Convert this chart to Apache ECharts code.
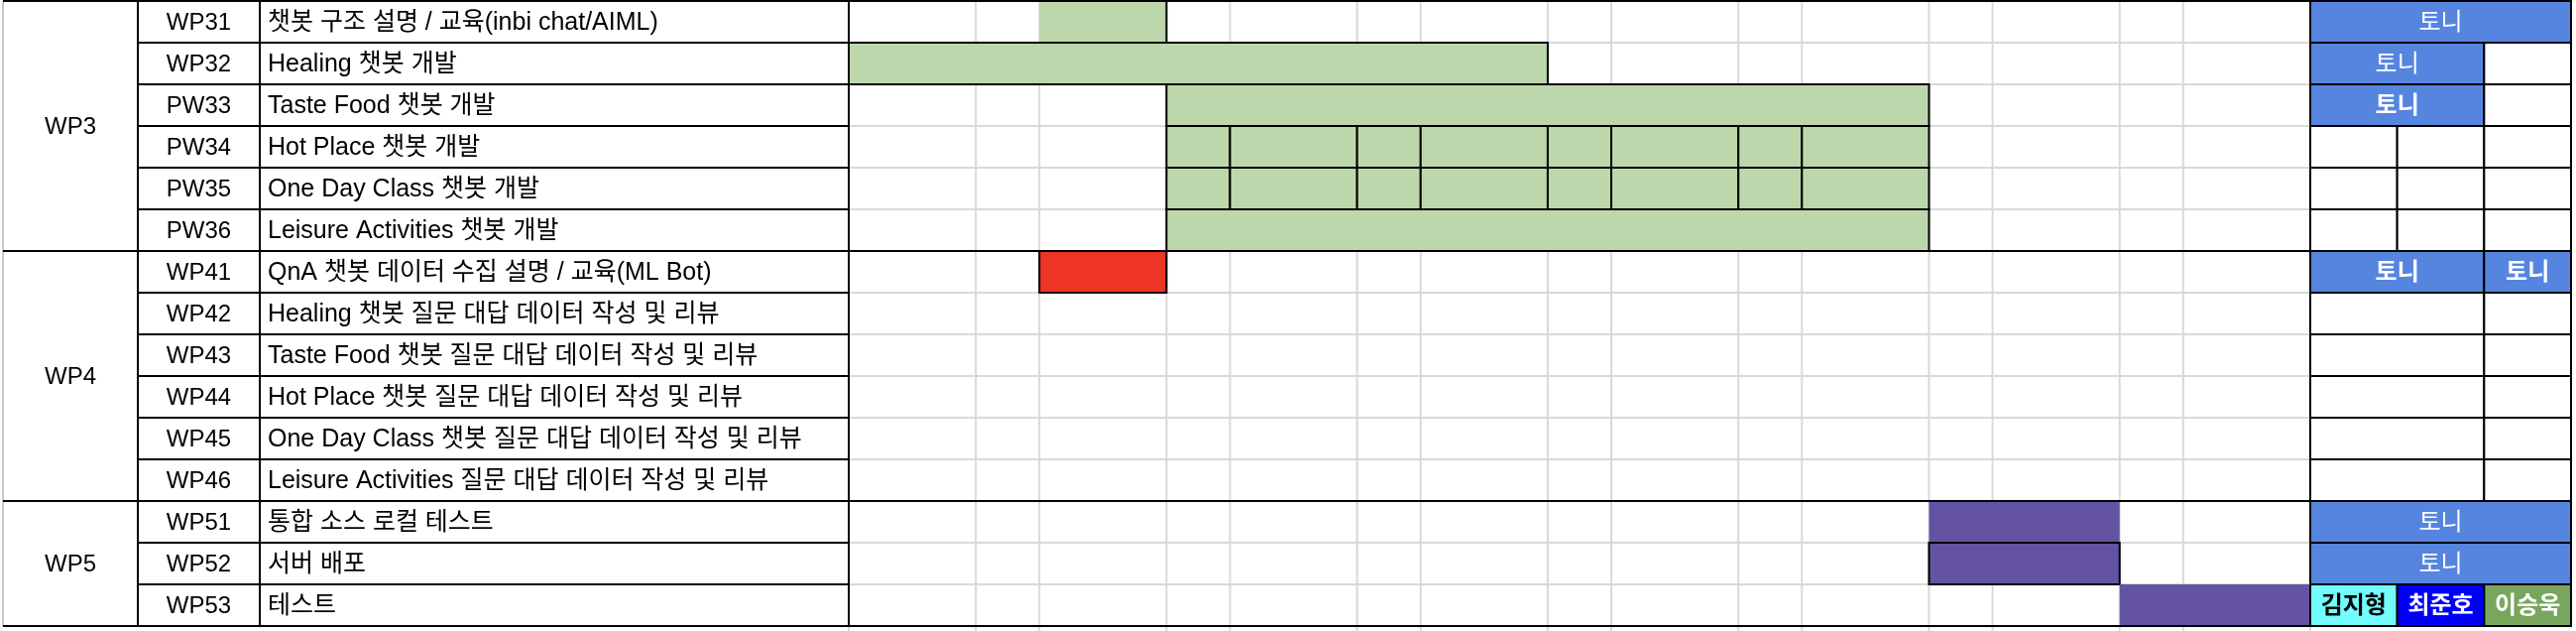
<!DOCTYPE html>
<html><head><meta charset="utf-8">
<script src="https://cdn.jsdelivr.net/npm/echarts@6/dist/echarts.min.js"></script>
<style>html,body{margin:0;padding:0;background:#fff}#c{width:2598px;height:636px}</style>
</head><body><div id="c"></div>
<script>
// ---------------- data ----------------
const groupNames = ['WP3', 'WP4', 'WP5'];
const groupFirstRow = [0, 6, 12];
const groupLastRow = [5, 11, 14];
const taskIds = ['WP31','WP32','PW33','PW34','PW35','PW36','WP41','WP42','WP43','WP44','WP45','WP46','WP51','WP52','WP53'];
const taskNames = [
  '챗봇 구조 설명 / 교육(inbi chat/AIML)',
  'Healing 챗봇 개발',
  'Taste Food 챗봇 개발',
  'Hot Place 챗봇 개발',
  'One Day Class 챗봇 개발',
  'Leisure Activities 챗봇 개발',
  'QnA 챗봇 데이터 수집 설명 / 교육(ML Bot)',
  'Healing 챗봇 질문 대답 데이터 작성 및 리뷰',
  'Taste Food 챗봇 질문 대답 데이터 작성 및 리뷰',
  'Hot Place 챗봇 질문 대답 데이터 작성 및 리뷰',
  'One Day Class 챗봇 질문 대답 데이터 작성 및 리뷰',
  'Leisure Activities 질문 대답 데이터 작성 및 리뷰',
  '통합 소스 로컬 테스트',
  '서버 배포',
  '테스트'
];
// timeline slot boundaries (wide / narrow schedule columns)
const timeSlots = [0, 2, 3, 5, 6, 8, 9, 11, 12, 14, 15, 17, 18, 20, 21, 23];
// gantt bars
const barRows   = [0, 1, 2, 3, 4, 5, 6, 12, 13, 14];
const barStarts = [3, 0, 5, 5, 5, 5, 3, 17, 17, 20];
const barEnds   = [5, 11, 17, 17, 17, 17, 5, 20, 20, 23];
const barKinds  = ['devOpenLeft','dev','dev','devSplit','devSplit','dev','edu','testOpen','test','testOpen'];
// owner cells: [row, fromCol, toCol, name, kind]
const owners = [
  [0, 0, 3, '토니', 'tony'],
  [1, 0, 2, '토니', 'tony'], [1, 2, 3, '', 'none'],
  [2, 0, 2, '토니', 'tonyB'], [2, 2, 3, '', 'none'],
  [3, 0, 1, '', 'none'], [3, 1, 2, '', 'none'], [3, 2, 3, '', 'none'],
  [4, 0, 1, '', 'none'], [4, 1, 2, '', 'none'], [4, 2, 3, '', 'none'],
  [5, 0, 1, '', 'none'], [5, 1, 2, '', 'none'], [5, 2, 3, '', 'none'],
  [6, 0, 2, '토니', 'tonyB'], [6, 2, 3, '토니', 'tonyB'],
  [7, 0, 2, '', 'none'], [7, 2, 3, '', 'none'],
  [8, 0, 2, '', 'none'], [8, 2, 3, '', 'none'],
  [9, 0, 2, '', 'none'], [9, 2, 3, '', 'none'],
  [10, 0, 2, '', 'none'], [10, 2, 3, '', 'none'],
  [11, 0, 2, '', 'none'], [11, 2, 3, '', 'none'],
  [12, 0, 3, '토니', 'tony'],
  [13, 0, 3, '토니', 'tony'],
  [14, 0, 1, '김지형', 'kim'], [14, 1, 2, '최준호', 'choi'], [14, 2, 3, '이승욱', 'lee']
];

// ---------------- styles ----------------
const FONT = '"Liberation Sans", "Noto Sans CJK KR", sans-serif';
const FS = 24, FS_TASK = 25;
const BLACK = '#000000', GRID = '#d9d9d9';
const barStyle = {
  dev:         { fill: '#bdd7ad', outline: true },
  devOpenLeft: { fill: '#bdd7ad', outline: true, openLeft: true },
  devSplit:    { fill: '#bdd7ad', outline: true, split: true },
  edu:         { fill: '#ee3425', outline: true },
  test:        { fill: '#6453a3', outline: true },
  testOpen:    { fill: '#6453a3', outline: false }
};
const ownerStyle = {
  none:  { fill: '#ffffff', color: '#000', weight: 'normal' },
  tony:  { fill: '#5685df', color: '#ffffff', weight: 'normal' },
  tonyB: { fill: '#5685df', color: '#ffffff', weight: 'bold' },
  kim:   { fill: '#74fbfd', color: '#000000', weight: 'bold' },
  choi:  { fill: '#0000f8', color: '#ffffff', weight: 'bold' },
  lee:   { fill: '#79a65d', color: '#ffffff', weight: 'bold' }
};

const nRows = taskIds.length;
const nSlots = timeSlots[timeSlots.length - 1];

function rectOf(api, x0, x1, r0, r1) {
  const a = api.coord([x0, r0]), b = api.coord([x1, r1]);
  return { x: a[0], y: a[1], width: b[0] - a[0], height: b[1] - a[1] };
}
function line(api, p, q, color, w) {
  const a = api.coord(p), b = api.coord(q);
  return { type: 'line', shape: { x1: a[0], y1: a[1], x2: b[0], y2: b[1] }, style: { stroke: color, lineWidth: w } };
}
function txt(x, y, s, align, color, weight, size) {
  return { type: 'text', style: { text: s, x: x, y: y, align: align, verticalAlign: 'middle',
    fontSize: size || FS, fontFamily: FONT, fontWeight: weight || 'normal', fill: color || '#000' } };
}

const chart = echarts.init(document.getElementById('c'), null, { renderer: 'canvas' });
const gridDefs = [
  { left: 3, width: 136, max: 1 },
  { left: 139, width: 123, max: 1 },
  { left: 262, width: 594, max: 1 },
  { left: 856, width: 1474, max: nSlots },
  { left: 2330, width: 263, max: 3 }
];
const option = {
  animation: false,
  backgroundColor: '#ffffff',
  grid: gridDefs.map(g => ({ left: g.left, width: g.width, top: 1, height: 630 })),
  xAxis: gridDefs.map((g, i) => ({ type: 'value', gridIndex: i, min: 0, max: g.max, show: false })),
  yAxis: gridDefs.map((g, i) => ({ type: 'value', gridIndex: i, min: 0, max: nRows, inverse: true, show: false })),
  series: [
    // gantt gray grid lines (continue past the table bottom like the sheet)
    {
      type: 'custom', xAxisIndex: 3, yAxisIndex: 3, z: 1, silent: true, clip: false,
      data: [[0, 0]],
      renderItem: function (params, api) {
        const ch = [];
        timeSlots.forEach(b => ch.push(line(api, [b, 0], [b, nRows + 1], GRID, 2)));
        for (let r = 0; r <= nRows; r++) ch.push(line(api, [0, r], [nSlots, r], GRID, 2));
        return { type: 'group', children: ch };
      }
    },
    // gantt bars
    {
      type: 'custom', xAxisIndex: 3, yAxisIndex: 3, z: 2, silent: true, clip: false,
      data: barRows.map((r, i) => [r, barStarts[i], barEnds[i]]),
      renderItem: function (params, api) {
        const row = api.value(0), s = api.value(1), e = api.value(2);
        const st = barStyle[barKinds[params.dataIndex]];
        const ch = [];
        const stroke = st.outline && !st.openLeft ? { stroke: BLACK, lineWidth: 2 } : {};
        if (st.split) {
          const cuts = timeSlots.filter(b => b >= s && b <= e);
          for (let k = 0; k < cuts.length - 1; k++) {
            ch.push({ type: 'rect', shape: rectOf(api, cuts[k], cuts[k + 1], row, row + 1),
              style: Object.assign({ fill: st.fill }, stroke) });
          }
        } else {
          ch.push({ type: 'rect', shape: rectOf(api, s, e, row, row + 1),
            style: Object.assign({ fill: st.fill }, stroke) });
        }
        if (st.openLeft) {
          ch.push(line(api, [e, row], [e, row + 1], BLACK, 2));
          ch.push(line(api, [s, row + 1], [e, row + 1], BLACK, 2));
        }
        return { type: 'group', children: ch };
      }
    },
    // section lines across gantt
    {
      type: 'custom', xAxisIndex: 3, yAxisIndex: 3, z: 5, silent: true, clip: false,
      data: [groupFirstRow[0]].concat(groupLastRow.map(r => r + 1)).map(r => [r]),
      renderItem: function (params, api) {
        const r = api.value(0);
        return line(api, [0, r], [nSlots, r], BLACK, 2);
      }
    },
    // group column
    {
      type: 'custom', xAxisIndex: 0, yAxisIndex: 0, z: 3, silent: true, clip: false,
      data: groupNames.map((g, i) => [groupFirstRow[i], groupLastRow[i] + 1]),
      renderItem: function (params, api) {
        const r0 = api.value(0), r1 = api.value(1);
        const R = rectOf(api, 0, 1, r0, r1);
        return { type: 'group', children: [
          { type: 'rect', shape: R, style: { fill: '#fff' } },
          line(api, [0, r0], [0, r1], '#c8c8c8', 2),
          line(api, [0, r0], [1, r0], BLACK, 2),
          line(api, [0, r1], [1, r1], BLACK, 2),
          line(api, [1, r0], [1, r1], BLACK, 2),
          txt(R.x + R.width / 2, R.y + R.height / 2 + 1, groupNames[params.dataIndex], 'center')
        ] };
      }
    },
    // id column
    {
      type: 'custom', xAxisIndex: 1, yAxisIndex: 1, z: 3, silent: true, clip: false,
      data: taskIds.map((t, i) => [i]),
      renderItem: function (params, api) {
        const r = api.value(0);
        const R = rectOf(api, 0, 1, r, r + 1);
        return { type: 'group', children: [
          { type: 'rect', shape: R, style: { fill: '#fff', stroke: BLACK, lineWidth: 2 } },
          txt(R.x + R.width / 2, R.y + R.height / 2 + 1, taskIds[params.dataIndex], 'center')
        ] };
      }
    },
    // task name column
    {
      type: 'custom', xAxisIndex: 2, yAxisIndex: 2, z: 3, silent: true, clip: false,
      data: taskNames.map((t, i) => [i]),
      renderItem: function (params, api) {
        const r = api.value(0);
        const R = rectOf(api, 0, 1, r, r + 1);
        return { type: 'group', children: [
          { type: 'rect', shape: R, style: { fill: '#fff', stroke: BLACK, lineWidth: 2 } },
          txt(R.x + 8, R.y + R.height / 2 + 1, taskNames[params.dataIndex], 'left', '#000', 'normal', FS_TASK)
        ] };
      }
    },
    // owner block
    {
      type: 'custom', xAxisIndex: 4, yAxisIndex: 4, z: 3, silent: true, clip: false,
      data: owners.map(o => [o[0], o[1], o[2]]),
      renderItem: function (params, api) {
        const o = owners[params.dataIndex];
        const st = ownerStyle[o[4]];
        const R = rectOf(api, o[1], o[2], o[0], o[0] + 1);
        const ch = [{ type: 'rect', shape: R, style: { fill: st.fill, stroke: BLACK, lineWidth: 2 } }];
        if (o[3]) ch.push(txt(R.x + R.width / 2, R.y + R.height / 2 + 1, o[3], 'center', st.color, st.weight));
        return { type: 'group', children: ch };
      }
    }
  ]
};
chart.setOption(option);
</script>
</body></html>
